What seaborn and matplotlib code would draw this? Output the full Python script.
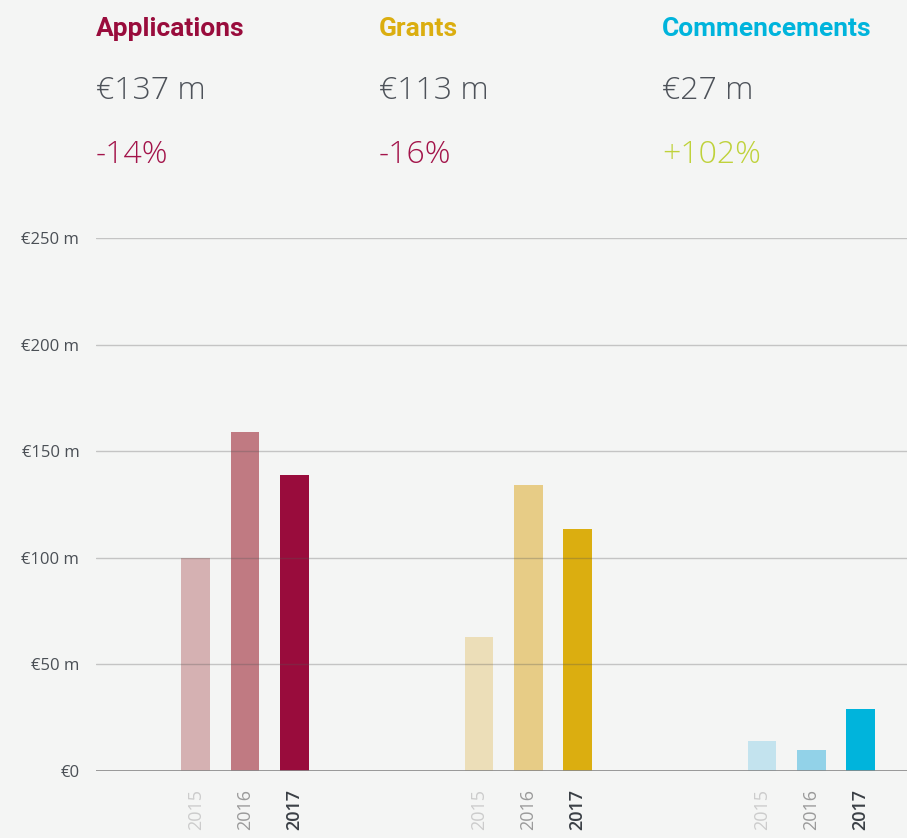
import pandas as pd
import numpy as np
import matplotlib.pyplot as plt
import matplotlib.transforms as mtransforms
import seaborn as sns

# Data (EUR millions)
groups = ['Applications', 'Grants', 'Commencements']
years = ['2015', '2016', '2017']
applications = [100, 159, 139]
grants = [63, 134, 113.5]
commencements = [14, 10, 29]

headline_values = ['€137 m', '€113 m', '€27 m']
headline_changes = ['-14%', '-16%', '+102%']

# Styling
bg = '#f4f5f4'
title_colors = ['#990c3c', '#dbae10', '#00b4dc']
change_colors = ['#a3144a', '#a3144a', '#bfd23a']
palettes = [
    ['#d5b1b2', '#c07a82', '#990c3c'],
    ['#ecdeb8', '#e7cc86', '#dbae10'],
    ['#c3e3ee', '#92d2e8', '#00b4dc'],
]
year_label_colors = ['#cccccc', '#9a9a9a', '#3a3f45']

sns.set_theme(style="white")
plt.rcParams['font.family'] = ['Open Sans', 'DejaVu Sans']

df = pd.DataFrame({
    'group': np.repeat(groups, len(years)),
    'year': years * len(groups),
    'value': applications + grants + commencements,
})

fig = plt.figure(figsize=(9.07, 8.38), dpi=100, facecolor=bg)
ax = fig.add_axes([96 / 907, 67 / 838, 811 / 907, 533 / 838])
ax.set_facecolor(bg)

for g, pal in zip(groups, palettes):
    sub = df[df['group'] == g]
    sns.barplot(data=sub, x='group', y='value', hue='year', order=groups,
                hue_order=years, palette=pal, dodge=True, width=0.52, gap=0.41,
                saturation=1, linewidth=0, legend=False, ax=ax)

ax.set_xlim(-0.5265, 2.339)
ax.set_ylim(0, 250)

# grid drawn on top of bars, semi-transparent
ax.set_axisbelow(False)
ax.set_yticks([0, 50, 100, 150, 200, 250])
ax.set_yticklabels(['€0', '€50 m', '€100 m', '€150 m', '€200 m', '€250 m'])
ax.yaxis.grid(True, color='#555555', alpha=0.3, linewidth=1)
ax.axhline(0, color='#8a8a8a', linewidth=1.2, zorder=5)
ax.tick_params(axis='y', length=0, pad=12, labelsize=12, labelcolor='#4a4f55')
for s in ax.spines.values():
    s.set_visible(False)

# year labels under each bar
centers = sorted(p.get_x() + p.get_width() / 2 for p in ax.patches)
ax.set_xticks(centers)
ax.set_xticklabels(years * len(groups), rotation=90, fontsize=13)
for i, lab in enumerate(ax.get_xticklabels()):
    lab.set_color(year_label_colors[i % 3])
    if i % 3 == 2:
        lab.set_fontweight('semibold')
ax.tick_params(axis='x', length=0, pad=13)
ax.set_xlabel('')
ax.set_ylabel('')

# headline block above each group
trans = mtransforms.blended_transform_factory(ax.transData, fig.transFigure)
for i, g in enumerate(groups):
    x0 = i - 0.5265
    fig.text(x0, 0.957, g, transform=trans, fontsize=19, fontweight='bold',
             color=title_colors[i], family=['Roboto', 'DejaVu Sans'], va='baseline')
    fig.text(x0, 0.882, headline_values[i], transform=trans, fontsize=23,
             fontweight='light', color='#4d5259', family=['Open Sans', 'DejaVu Sans'], va='baseline')
    fig.text(x0, 0.805, headline_changes[i], transform=trans, fontsize=23,
             fontweight='light', color=change_colors[i], family=['Open Sans', 'DejaVu Sans'], va='baseline')

fig.savefig('out.png', dpi=100, facecolor=bg)
